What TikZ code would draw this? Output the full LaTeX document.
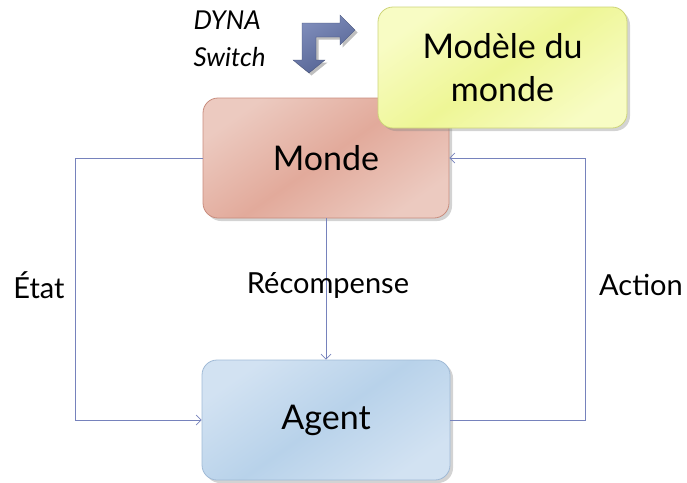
\documentclass[tikz,border=0pt]{standalone}
\usepackage{fontspec}
\setmainfont{Lato}
\usetikzlibrary{arrows.meta,shadows,positioning}

\definecolor{linkcol}{RGB}{118,130,188}
\definecolor{mondeA}{RGB}{236,202,192}
\definecolor{mondeB}{RGB}{226,170,155}
\definecolor{mondeD}{RGB}{200,140,125}
\definecolor{agentA}{RGB}{210,226,242}
\definecolor{agentB}{RGB}{184,210,234}
\definecolor{agentD}{RGB}{160,186,214}
\definecolor{modA}{RGB}{248,252,196}
\definecolor{modB}{RGB}{238,246,150}
\definecolor{modD}{RGB}{205,212,120}
\definecolor{bentA}{RGB}{128,142,188}
\definecolor{bentB}{RGB}{82,97,145}

\tikzset{
  box/.style={rounded corners=15pt, minimum width=246pt, minimum height=120pt,
    line width=0.8pt, align=center, font=\fontsize{34}{43}\selectfont,
    drop shadow={shadow xshift=3pt, shadow yshift=-3pt, opacity=0.35}},
  mondebox/.style={box, draw=mondeD,
    left color=mondeA, right color=mondeA, middle color=mondeB, shading angle=35},
  agentbox/.style={box, draw=agentD,
    left color=agentA, right color=agentA, middle color=agentB, shading angle=35},
  modbox/.style={box, minimum width=249pt, minimum height=121pt, draw=modD,
    left color=modA, right color=modA, middle color=modB, shading angle=35},
  link/.style={draw=linkcol, line width=0.7pt, -{Straight Barb[length=5pt,width=10pt]}},
  plain/.style={draw=linkcol, line width=0.7pt},
  lbl/.style={font=\fontsize{29}{34}\selectfont},
  sw/.style={font=\itshape\fontsize{26}{30}\selectfont, anchor=west},
  bent/.pic={
    \path[pic actions]
      (302,23) -- (340,23) -- (340,15) -- (355,30) -- (340,45) -- (340,37)
      -- (316,37) -- (316,60) -- (325,60) -- (309,73) -- (293,60) -- (302,60) -- cycle;
  }
}

\begin{document}
\begin{tikzpicture}[x=1pt, y=-1pt]
  \useasboundingbox (0,0) rectangle (687,482);

  % main boxes
  \node[mondebox] (monde) at (326,158) {Monde};
  \node[agentbox, minimum width=248pt] (agent) at (326,420) {Agent};
  \node[modbox] (modele) at (502.5,67.5) {Modèle du\\monde};

  % switch label
  \node[sw] (dyna) at (190,20) {DYNA};
  \node[sw] (switch) at (190,57) {Switch};

  % bent double arrow of the switch, with its soft shadow
  \pic[fill=black, opacity=0.25] at (2.5,2.5) {bent};
  \pic[left color=bentA, right color=bentB, shading angle=30, draw=bentB!80!black, line width=0.3pt] {bent};

  % connectors
  \coordinate (lt) at (75,158);
  \coordinate (lb) at (75,420);
  \coordinate (rt) at (585,158);
  \coordinate (rb) at (585,420);
  \draw[plain] (monde.west) -- (lt) -- (lb);
  \draw[link] (lb) -- (agent.west);
  \draw[plain] (agent.east) -- (rb) -- (rt);
  \draw[link] (rt) -- (monde.east);
  \draw[link] (monde.south) -- (agent.north);

  % labels
  \node[lbl] (etat) at (39,285) {État};
  \node[lbl] (recomp) at (328,285) {Récompense};
  \node[lbl] (action) at (641,285) {Action};
\end{tikzpicture}
\end{document}
